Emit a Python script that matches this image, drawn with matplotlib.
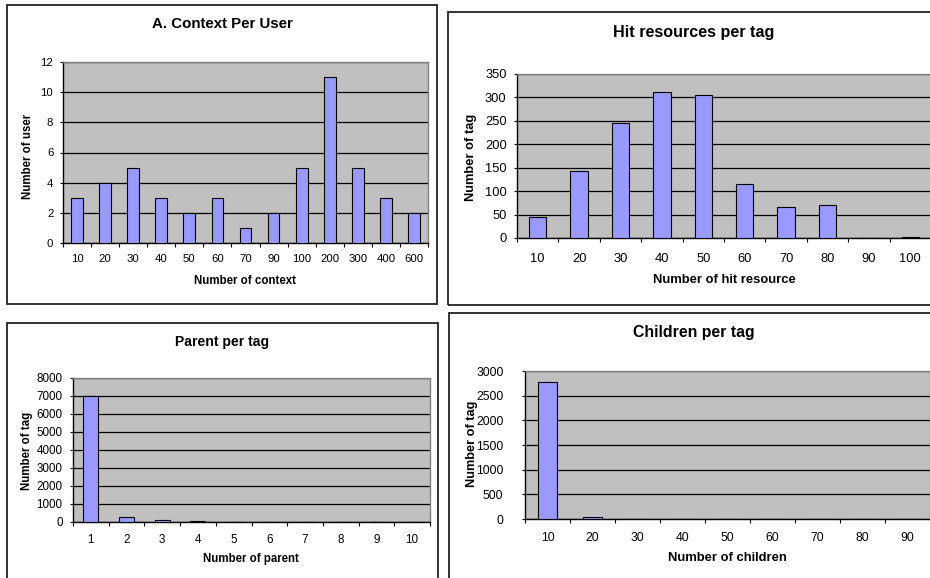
import numpy as np
import matplotlib
matplotlib.use("Agg")
import matplotlib.pyplot as plt
from matplotlib.patches import Rectangle
from matplotlib.transforms import Bbox, TransformedBbox

plt.rcParams['font.family'] = ['Liberation Sans', 'DejaVu Sans']

# data for the four histograms
context_bins = ['10', '20', '30', '40', '50', '60', '70', '90', '100', '200', '300', '400', '600']
users_per_context = [3, 4, 5, 3, 2, 3, 1, 2, 5, 11, 5, 3, 2]

hit_bins = ['10', '20', '30', '40', '50', '60', '70', '80', '90', '100']
tags_per_hit = [45, 143, 245, 312, 306, 115, 67, 71, 0, 3]

parent_bins = ['1', '2', '3', '4', '5', '6', '7', '8', '9', '10']
tags_per_parent = [7000, 260, 120, 60, 0, 0, 0, 0, 0, 0]

children_bins = ['10', '20', '30', '40', '50', '60', '70', '80', '90']
tags_per_children = [2770, 40, 0, 0, 0, 0, 0, 0, 0]

W, H = 930, 578
BAR = '#9999FF'
PLOT_BG = '#C0C0C0'

fig = plt.figure(figsize=(W / 100, H / 100), dpi=100)


def px_axes(x0, y0, x1, y1):
    # pixel box (top-left origin) -> figure fraction
    return [x0 / W, (H - y1) / H, (x1 - x0) / W, (y1 - y0) / H]


def fx(x):
    return x / W


def fy(y):
    return (H - y) / H


def frame(x0, y0, x1, y1):
    fig.add_artist(Rectangle((fx(x0), fy(y1)), (x1 - x0) / W, (y1 - y0) / H,
                             transform=fig.transFigure, fill=False,
                             edgecolor='#222222', linewidth=1.3))


def histo(rect, labels, values, ymax, ystep, tick_fs, ypad, xpad):
    ax = fig.add_axes(px_axes(*rect))
    n = len(labels)
    x = np.arange(n)
    ax.set_facecolor(PLOT_BG)
    ax.bar(x, values, 0.42, color=BAR, edgecolor='black', linewidth=0.8, zorder=3)
    ax.set_xlim(-0.5, n - 0.5)
    ax.set_ylim(0, ymax)
    ax.set_yticks(np.arange(0, ymax + ystep, ystep))
    ax.yaxis.grid(True, color='black', linewidth=0.9, zorder=1)
    ax.set_axisbelow(True)
    # ticks sit between categories, labels in the middle
    ax.set_xticks(np.arange(n + 1) - 0.5)
    ax.set_xticklabels([])
    ax.set_xticks(x, minor=True)
    ax.set_xticklabels(labels, minor=True)
    ax.tick_params(axis='x', which='major', direction='out', length=3, width=0.8)
    ax.tick_params(axis='x', which='minor', length=0, pad=xpad, labelsize=tick_fs)
    ax.tick_params(axis='y', direction='out', length=2.5, width=0.8, pad=ypad,
                   labelsize=tick_fs)
    for s in ['top', 'right']:
        ax.spines[s].set_color('#808080')
        ax.spines[s].set_linewidth(1.0)
    for s in ['left', 'bottom']:
        ax.spines[s].set_color('black')
        ax.spines[s].set_linewidth(1.0)
    return ax


# A. context per user
frame(7, 5, 437, 304)
histo((63, 62, 428, 243), context_bins, users_per_context, 12, 2, 8.2, 4.5, 8)
fig.text(fx(222), fy(24), 'A. Context Per User', ha='center', va='center',
         fontsize=10.8, fontweight='bold')
fig.text(fx(245), fy(281), 'Number of context', ha='center', va='center',
         fontsize=8.3, fontweight='bold')
fig.text(fx(28), fy(156), 'Number of user', ha='center', va='center',
         rotation=90, fontsize=8.3, fontweight='bold')

# hit resources per tag
frame(448, 12, 940, 305)
histo((517, 74, 931, 238), hit_bins, tags_per_hit, 350, 50, 9.3, 5, 10.5)
fig.text(fx(694), fy(32), 'Hit resources per tag', ha='center', va='center',
         fontsize=11.6, fontweight='bold')
fig.text(fx(724), fy(280), 'Number of hit resource', ha='center', va='center',
         fontsize=9.4, fontweight='bold')
fig.text(fx(471), fy(157), 'Number of tag', ha='center', va='center',
         rotation=90, fontsize=9.3, fontweight='bold')

# parent per tag
frame(7, 323, 438, 600)
histo((73, 378, 430, 522), parent_bins, tags_per_parent, 8000, 1000, 8.4, 5, 8.5)
fig.text(fx(222), fy(342), 'Parent per tag', ha='center', va='center',
         fontsize=10.1, fontweight='bold')
fig.text(fx(251), fy(559), 'Number of parent', ha='center', va='center',
         fontsize=8.3, fontweight='bold')
fig.text(fx(27), fy(451), 'Number of tag', ha='center', va='center',
         rotation=90, fontsize=8.3, fontweight='bold')

# children per tag
frame(449, 313, 940, 600)
histo((525, 371, 930, 519), children_bins, tags_per_children, 3000, 500, 8.7, 13, 9.5)
fig.text(fx(694), fy(333), 'Children per tag', ha='center', va='center',
         fontsize=11.4, fontweight='bold')
fig.text(fx(727), fy(558), 'Number of children', ha='center', va='center',
         fontsize=9.4, fontweight='bold')
ylab = fig.text(fx(472), fy(444), 'Number of tag', ha='center', va='center',
                rotation=90, fontsize=9.2, fontweight='bold')
# the label's right edge is cut off, the g loses its tail
ylab.set_clip_box(TransformedBbox(Bbox([[fx(449), fy(600)], [fx(478), fy(313)]]),
                                  fig.transFigure))
ylab.set_clip_on(True)

fig.savefig('out.png', dpi=100)
